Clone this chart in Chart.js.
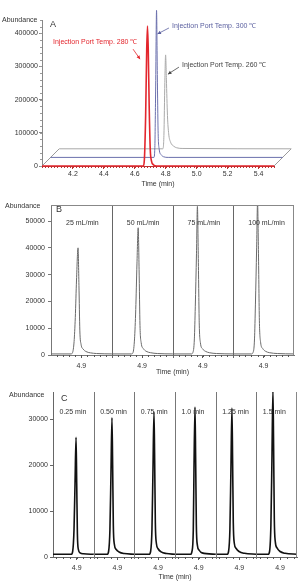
<!DOCTYPE html>
<html><head><meta charset="utf-8">
<script src="https://cdn.jsdelivr.net/npm/chart.js@4/dist/chart.umd.min.js"></script>
<style>
html,body{margin:0;padding:0;background:#fff;width:302px;height:581px;overflow:hidden}
canvas{position:absolute;left:0}
</style></head><body>
<canvas id="cA" width="302" height="190" style="top:0px"></canvas>
<canvas id="cB" width="302" height="195" style="top:190px"></canvas>
<canvas id="cC" width="302" height="196" style="top:385px"></canvas>
<script>
// ================= DATA =================
// Panel A: injection port temperature (time [min], abundance)
const seriesA = ['Injection Port Temp. 280 ℃', 'Injection Port Temp. 300 ℃', 'Injection Port Temp. 260 ℃'];
const peakA280 = [[4.0,0],[4.655,0],[4.662,20000],[4.670,150000],[4.677,350000],[4.682,422000],[4.687,350000],[4.693,180000],[4.700,50000],[4.708,15000],[4.720,4000],[4.740,0],[5.5,0]];
const peakA300 = [[4.0,0],[4.668,0],[4.674,30000],[4.679,200000],[4.685,443000],[4.690,250000],[4.695,80000],[4.702,25000],[4.715,8000],[4.730,2000],[4.760,0],[5.5,0]];
const peakA260 = [[4.0,0],[4.670,0],[4.677,40000],[4.683,200000],[4.688,283000],[4.693,210000],[4.700,100000],[4.708,45000],[4.720,20000],[4.740,8000],[4.760,3000],[4.800,1000],[5.5,0]];
const xTicksA = [4.2, 4.4, 4.6, 4.8, 5.0, 5.2, 5.4];
const yTicksA = [0, 100000, 200000, 300000, 400000];

// Panel B: column flow (one window per flow rate)
const flowRatesB = ['25 mL/min', '50 mL/min', '75 mL/min', '100 mL/min'];
const peakB25  = [[4.80,400],[4.866,400],[4.871,900],[4.876,5000],[4.880,14000],[4.884,28000],[4.889,40000],[4.892,26000],[4.895,9000],[4.899,4000],[4.906,2200],[4.915,1300],[4.930,800],[4.950,550],[5.00,400]];
const peakB50  = [[4.80,400],[4.865,400],[4.870,900],[4.875,6000],[4.879,17000],[4.883,34000],[4.887,47500],[4.890,32000],[4.893,11000],[4.897,4500],[4.904,2400],[4.913,1400],[4.928,850],[4.950,550],[5.00,400]];
const peakB75  = [[4.80,400],[4.862,400],[4.867,900],[4.872,6000],[4.875,18000],[4.879,38000],[4.882,55500],[4.885,36000],[4.888,12000],[4.892,4500],[4.899,2300],[4.908,1400],[4.922,850],[4.945,550],[5.00,400]];
const peakB100 = [[4.80,400],[4.860,400],[4.865,900],[4.870,6000],[4.873,19000],[4.877,40000],[4.880,57000],[4.883,38000],[4.886,13000],[4.890,4800],[4.897,2400],[4.906,1400],[4.920,850],[4.945,550],[5.00,400]];
const xTickLabelsB = ['4.9', '4.9', '4.9', '4.9'];
const yTicksB = [0, 10000, 20000, 30000, 40000, 50000];

// Panel C: splitless time (one window per time)
const splitlessC = ['0.25 min', '0.50 min', '0.75 min', '1.0 min', '1.25 min', '1.5 min'];
const peakC025 = [[4.83,600],[4.884,600],[4.888,1200],[4.892,6000],[4.895,16000],[4.898,26100],[4.900,16000],[4.902,5000],[4.905,1600],[4.910,900],[4.920,700],[4.95,600]];
const peakC050 = [[4.83,600],[4.870,600],[4.874,1200],[4.878,6000],[4.881,18000],[4.884,30350],[4.886,20000],[4.888,7000],[4.891,2800],[4.896,1700],[4.905,1100],[4.920,750],[4.95,600]];
const peakC075 = [[4.83,600],[4.874,600],[4.878,1200],[4.882,6000],[4.885,19000],[4.888,31700],[4.890,21000],[4.892,7500],[4.895,3000],[4.900,1800],[4.909,1100],[4.925,750],[4.95,600]];
const peakC100 = [[4.83,600],[4.876,600],[4.880,1200],[4.884,6000],[4.886,19000],[4.889,32700],[4.891,21000],[4.893,7000],[4.896,2600],[4.901,1500],[4.910,900],[4.95,600]];
const peakC125 = [[4.83,600],[4.864,600],[4.868,1200],[4.872,6000],[4.875,19000],[4.878,32500],[4.880,21000],[4.882,7500],[4.885,3000],[4.890,1900],[4.899,1200],[4.915,800],[4.95,600]];
const peakC150 = [[4.83,600],[4.865,600],[4.869,1200],[4.873,7000],[4.876,21000],[4.879,36500],[4.881,24000],[4.883,8500],[4.886,3300],[4.891,2000],[4.900,1200],[4.915,800],[4.95,600]];
const xTickLabelsC = ['4.9', '4.9', '4.9', '4.9', '4.9', '4.9'];
const yTicksC = [0, 10000, 20000, 30000];

// window of each sub-panel (min)
const WIN_B = [4.80, 5.00];
const WIN_C = [4.83, 4.95];
const MAJOR_T = 4.9;

// ================= HELPERS =================
const FONT = "'Liberation Sans', Arial, Helvetica, sans-serif";
Chart.defaults.font.family = FONT;
Chart.defaults.font.size = 7;
Chart.defaults.color = '#333';
Chart.defaults.animation = false;

const toXY = pts => pts.map(([t, a]) => ({x: t, y: a}));
const segXY = (pts, seg, win) => pts.map(([t, a]) => ({x: seg + (t - win[0]) / (win[1] - win[0]), y: a}));
const segPos = (seg, t, win) => seg + (t - win[0]) / (win[1] - win[0]);
function range(a, b, step) { const r = []; for (let v = a; v <= b + 1e-9; v += step) r.push(+v.toFixed(4)); return r; }

const minorTicks = {
  id: 'minorTicks',
  afterDraw(chart, args, o) {
    const ctx = chart.ctx; ctx.save();
    ctx.lineWidth = 1;
    if (o.x) { ctx.strokeStyle = o.color; const s = chart.scales.x; o.x.forEach(v => { const p = Math.round(s.getPixelForValue(v)) + 0.5; ctx.beginPath(); ctx.moveTo(p, s.top); ctx.lineTo(p, s.top + o.len); ctx.stroke(); }); }
    if (o.y) { ctx.strokeStyle = o.yColor || o.color; const s = chart.scales.y; o.y.forEach(v => { const p = Math.round(s.getPixelForValue(v)) + 0.5; ctx.beginPath(); ctx.moveTo(s.right, p); ctx.lineTo(s.right - o.len, p); ctx.stroke(); }); }
    ctx.restore();
  }
};

const texts = {
  id: 'texts',
  afterDraw(chart, args, o) {
    const ctx = chart.ctx; ctx.save();
    o.items.forEach(it => {
      ctx.font = it.font || ('7px ' + FONT);
      ctx.fillStyle = it.color || '#333';
      ctx.textAlign = it.align || 'left';
      ctx.textBaseline = 'middle';
      ctx.fillText(it.text, it.x, it.y);
    });
    ctx.restore();
  }
};

// 3D depth shift for panel A
const depth = {
  id: 'depth',
  beforeDatasetsDraw(chart, args, o) {
    const {left, right, bottom} = chart.chartArea, ctx = chart.ctx, d = o.step * 2;
    ctx.save(); ctx.strokeStyle = o.frameColor; ctx.lineWidth = 1;
    [left, right].forEach(x => { ctx.beginPath(); ctx.moveTo(x, bottom); ctx.lineTo(x + d, bottom - d); ctx.stroke(); });
    ctx.restore();
  },
  beforeDatasetDraw(chart, args, o) {
    const k = o.depths[args.index]; chart.ctx.save(); chart.ctx.translate(k * o.step, -k * o.step);
  },
  afterDatasetDraw(chart) { chart.ctx.restore(); }
};

const arrowsA = {
  id: 'arrowsA',
  afterDatasetsDraw(chart, args, o) {
    const ctx = chart.ctx, xs = chart.scales.x, ys = chart.scales.y;
    ctx.save();
    o.items.forEach(it => {
      const tx = xs.getPixelForValue(it.tip[0]) + it.depth * o.step;
      const ty = ys.getPixelForValue(it.tip[1]) - it.depth * o.step;
      const sx = tx + it.tail[0], sy = ty + it.tail[1];
      ctx.strokeStyle = it.color; ctx.fillStyle = it.color; ctx.lineWidth = 0.8;
      ctx.beginPath(); ctx.moveTo(sx, sy); ctx.lineTo(tx, ty); ctx.stroke();
      const a = Math.atan2(ty - sy, tx - sx), L = 3.5, W = 1.8;
      ctx.beginPath(); ctx.moveTo(tx, ty);
      ctx.lineTo(tx - L * Math.cos(a) + W * Math.sin(a), ty - L * Math.sin(a) - W * Math.cos(a));
      ctx.lineTo(tx - L * Math.cos(a) - W * Math.sin(a), ty - L * Math.sin(a) + W * Math.cos(a));
      ctx.closePath(); ctx.fill();
      ctx.font = '7px ' + FONT; ctx.textAlign = 'left'; ctx.textBaseline = 'middle';
      ctx.fillText(it.text, it.textAt[0], it.textAt[1]);
    });
    ctx.restore();
  }
};

// separators, frame and window labels for panels B / C
const segFrame = {
  id: 'segFrame',
  afterDraw(chart, args, o) {
    const ctx = chart.ctx, {left, right, top, bottom} = chart.chartArea, xs = chart.scales.x;
    ctx.save(); ctx.lineWidth = 1;
    ctx.strokeStyle = o.sepColor;
    for (let i = 1; i < o.labels.length; i++) {
      const p = Math.round(xs.getPixelForValue(i)) + 0.5;
      ctx.beginPath(); ctx.moveTo(p, top); ctx.lineTo(p, bottom + o.sepExt); ctx.stroke();
    }
    ctx.strokeStyle = o.boxColor;
    ctx.beginPath();
    if (o.topLine) { ctx.moveTo(left, Math.round(top) + 0.5); ctx.lineTo(right, Math.round(top) + 0.5); }
    ctx.moveTo(Math.round(right) - 0.5, top); ctx.lineTo(Math.round(right) - 0.5, bottom);
    ctx.stroke();
    ctx.font = '7px ' + FONT; ctx.fillStyle = '#333'; ctx.textAlign = 'left'; ctx.textBaseline = 'middle';
    o.labels.forEach((t, i) => ctx.fillText(t, xs.getPixelForValue(i) + o.labelDx, o.labelY));
    ctx.restore();
  }
};

const baseOpts = {
  responsive: false, animation: false, devicePixelRatio: 1,
  elements: {point: {radius: 0}, line: {cubicInterpolationMode: 'monotone', fill: false}},
  events: []
};

// ================= PANEL A =================
const RED = '#e3262d', BLUE = '#6b70ad', GRAY = '#a9a9a9';
new Chart(document.getElementById('cA'), {
  type: 'line',
  data: {datasets: [
    {label: seriesA[0], data: toXY(peakA280), borderColor: RED, borderWidth: 1.6, clip: false},
    {label: seriesA[1], data: toXY(peakA300), borderColor: BLUE, borderWidth: 1, clip: false},
    {label: seriesA[2], data: toXY(peakA260), borderColor: GRAY, borderWidth: 1, clip: false}
  ]},
  options: Object.assign({}, baseOpts, {
    layout: {padding: {left: 0, right: 28, top: 20, bottom: 0}},
    plugins: {
      legend: {display: false}, tooltip: {enabled: false},
      depth: {step: 8.6, depths: [0, 1, 2], frameColor: '#9a9a9a'},
      minorTicks: {color: '#b33', yColor: '#999', len: 2, x: range(4.0, 5.5, 0.02), y: range(0, 440000, 20000)},
      arrowsA: {step: 8.6, items: [
        {text: seriesA[0], color: RED, depth: 0, tip: [4.634, 322000], tail: [-7, -10], textAt: [53, 42]},
        {text: seriesA[1], color: '#5a5f9f', depth: 1, tip: [4.691, 372000], tail: [11.5, -6], textAt: [172, 26]},
        {text: seriesA[2], color: '#444', depth: 2, tip: [4.703, 225000], tail: [11, -7], textAt: [182, 65]}
      ]},
      texts: {items: [
        {text: 'Abundance', x: 2, y: 20},
        {text: 'A', x: 50, y: 25, font: '9px ' + FONT}
      ]}
    },
    scales: {
      x: {type: 'linear', min: 4.0, max: 5.5,
        afterBuildTicks: s => { s.ticks = xTicksA.map(v => ({value: v})); },
        afterFit: s => { s.height = 24; },
        ticks: {callback: v => v.toFixed(1), autoSkip: false, maxRotation: 0, padding: 0.5},
        grid: {drawOnChartArea: false, tickLength: 3, color: '#b33'},
        border: {color: '#b33'},
        title: {display: true, text: 'Time (min)', padding: {top: 0, bottom: 1.5}}},
      y: {type: 'linear', min: 0, max: 440000,
        afterBuildTicks: s => { s.ticks = yTicksA.map(v => ({value: v})); },
        afterFit: s => { s.width = 42; },
        ticks: {callback: v => String(v), padding: 1},
        grid: {drawOnChartArea: false, tickLength: 3, color: '#888'},
        border: {color: '#888'}}
    }
  }),
  plugins: [depth, minorTicks, arrowsA, texts]
});

// ================= PANEL B =================
const peaksB = [peakB25, peakB50, peakB75, peakB100];
new Chart(document.getElementById('cB'), {
  type: 'line',
  data: {datasets: peaksB.map((p, i) => ({label: flowRatesB[i], data: segXY(p, i, WIN_B), borderColor: '#6a6a6a', borderWidth: 1}))},
  options: Object.assign({}, baseOpts, {
    layout: {padding: {left: 0, right: 8, top: 15, bottom: 8}},
    plugins: {
      legend: {display: false}, tooltip: {enabled: false},
      minorTicks: {color: '#555', len: 2, x: flowRatesB.flatMap((_, i) => range(4.82, 4.98, 0.02).map(t => segPos(i, t, WIN_B)))},
      segFrame: {labels: flowRatesB, labelDx: 15, labelY: 33, sepColor: '#666', boxColor: '#888', sepExt: 3, topLine: true},
      texts: {items: [
        {text: 'Abundance', x: 5, y: 16},
        {text: 'B', x: 56, y: 19.5, font: '9px ' + FONT}
      ]}
    },
    scales: {
      x: {type: 'linear', min: 0, max: flowRatesB.length,
        afterBuildTicks: s => { s.ticks = xTickLabelsB.map((_, i) => ({value: segPos(i, MAJOR_T, WIN_B)})); },
        afterFit: s => { s.height = 22; },
        ticks: {callback: (v, i) => xTickLabelsB[i], autoSkip: false, maxRotation: 0, padding: 3.5},
        grid: {drawOnChartArea: false, tickLength: 3, color: '#555'},
        border: {color: '#777'},
        title: {display: true, text: 'Time (min)', padding: {top: 0, bottom: 1}}},
      y: {type: 'linear', min: 0, max: 56000,
        afterBuildTicks: s => { s.ticks = yTicksB.map(v => ({value: v})); },
        afterFit: s => { s.width = 51; },
        ticks: {callback: v => String(v), padding: 3},
        grid: {drawOnChartArea: false, tickLength: 3, color: '#777'},
        border: {color: '#777'}}
    }
  }),
  plugins: [minorTicks, segFrame, texts]
});

// ================= PANEL C =================
const peaksC = [peakC025, peakC050, peakC075, peakC100, peakC125, peakC150];
new Chart(document.getElementById('cC'), {
  type: 'line',
  data: {datasets: peaksC.map((p, i) => ({label: splitlessC[i], data: segXY(p, i, WIN_C), borderColor: '#111', borderWidth: 1.6}))},
  options: Object.assign({}, baseOpts, {
    layout: {padding: {left: 0, right: 5, top: 7, bottom: 0}},
    plugins: {
      legend: {display: false}, tooltip: {enabled: false},
      minorTicks: {color: '#555', len: 2, x: splitlessC.flatMap((_, i) => range(4.84, 4.94, 0.02).map(t => segPos(i, t, WIN_C)))},
      segFrame: {labels: splitlessC, labelDx: 6.5, labelY: 27, sepColor: '#777', boxColor: '#888', sepExt: 2, topLine: false},
      texts: {items: [
        {text: 'Abundance', x: 9, y: 10},
        {text: 'C', x: 61, y: 14, font: '9px ' + FONT}
      ]}
    },
    scales: {
      x: {type: 'linear', min: 0, max: splitlessC.length,
        afterBuildTicks: s => { s.ticks = xTickLabelsC.map((_, i) => ({value: segPos(i, MAJOR_T, WIN_C)})); },
        afterFit: s => { s.height = 24; },
        ticks: {callback: (v, i) => xTickLabelsC[i], autoSkip: false, maxRotation: 0, padding: 4},
        grid: {drawOnChartArea: false, tickLength: 3, color: '#555'},
        border: {color: '#666'},
        title: {display: true, text: 'Time (min)', padding: {top: 0, bottom: 0}}},
      y: {type: 'linear', min: 0, max: 36000,
        afterBuildTicks: s => { s.ticks = yTicksC.map(v => ({value: v})); },
        afterFit: s => { s.width = 53; },
        ticks: {callback: v => String(v), padding: 2},
        grid: {drawOnChartArea: false, tickLength: 3, color: '#666'},
        border: {color: '#666'}}
    }
  }),
  plugins: [minorTicks, segFrame, texts]
});
</script>
</body></html>
